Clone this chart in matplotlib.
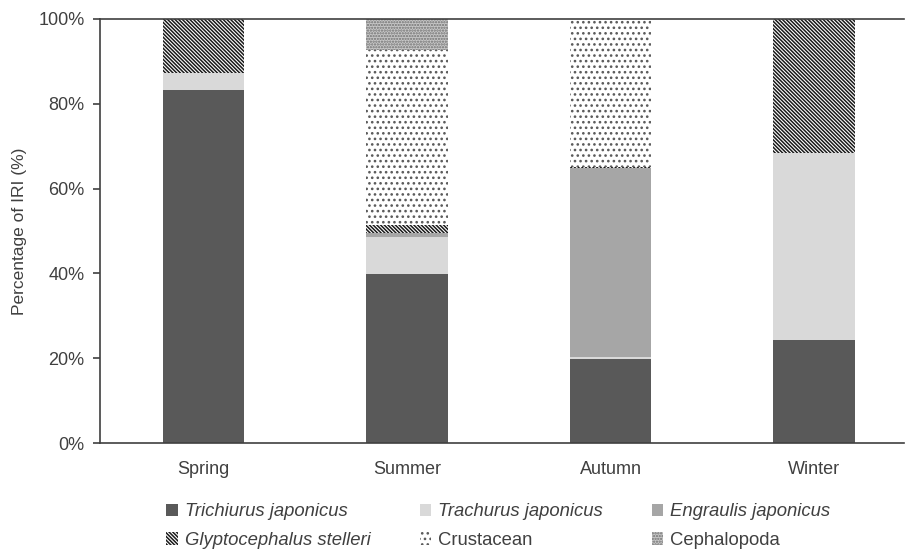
import matplotlib
matplotlib.use('Agg')

import numpy as np
import matplotlib.pyplot as plt
from matplotlib.patches import Patch

seasons = ['Spring', 'Summer', 'Autumn', 'Winter']
trichiurus = [83.2, 39.9, 19.9, 24.3]
trachurus = [4.1, 8.7, 0.5, 44.1]
engraulis = [0.0, 0.9, 44.5, 0.0]
glyptocephalus = [12.7, 1.9, 0.3, 31.6]
crustacean = [0.0, 41.3, 34.8, 0.0]
cephalopoda = [0.0, 7.3, 0.0, 0.0]

names = ['Trichiurus japonicus', 'Trachurus japonicus', 'Engraulis japonicus',
	'Glyptocephalus stelleri', 'Crustacean', 'Cephalopoda']
italic = [True, True, True, True, False, False]

# face, hatch, hatch colour
styles = [
	( '#595959', None, '#595959' ),
	( '#d9d9d9', None, '#d9d9d9' ),
	( '#a6a6a6', None, '#a6a6a6' ),
	( 'white', '\\' * 9, '#1a1a1a' ),
	( 'white', '...', '#5a5a5a' ),
	( '#c8c8c8', '......', '#707070' ),
]

plt.rcParams['font.family'] = ['Liberation Sans', 'DejaVu Sans']
plt.rcParams['hatch.linewidth'] = 1.1
txt = '#404040'

fig = plt.figure( figsize=( 9.09, 5.5 ), dpi=100 )
ax = fig.add_axes( [ 0.110, 0.1945, 0.885, 0.771 ] )

x = np.arange( len( seasons ) )
series = [ trichiurus, trachurus, engraulis, glyptocephalus, crustacean, cephalopoda ]
bottom = np.zeros( len( seasons ) )
handles = []
for vals, ( fc, h, hc ), name in zip( series, styles, names ):
	vals = np.array( vals )
	ax.bar( x, vals, 0.40, bottom=bottom, color=fc, edgecolor=hc, hatch=h, linewidth=0 )
	bottom += vals
	handles.append( Patch( facecolor=fc, edgecolor=hc, hatch=h, linewidth=0, label=name ) )

ax.set_xlim( -0.51, 3.445 )
ax.set_ylim( 0, 100 )
ax.axhline( 100, color='#404040', lw=1.2, clip_on=False )
ax.set_yticks( np.arange( 0, 101, 20 ) )
ax.set_yticklabels( [ '{}%'.format( v ) for v in range( 0, 101, 20 ) ] )
ax.set_xticks( x )
ax.set_xticklabels( seasons )
ax.tick_params( axis='x', length=0, pad=13, labelsize=13, colors=txt )
ax.tick_params( axis='y', length=5, width=1.2, pad=6, labelsize=13, colors=txt, color='#404040' )
for s in [ 'top', 'right' ]:
	ax.spines[ s ].set_visible( False )
for s in [ 'left', 'bottom' ]:
	ax.spines[ s ].set_color( '#404040' )
	ax.spines[ s ].set_linewidth( 1.2 )
ax.set_ylabel( 'Percentage of IRI (%)', fontsize=12.5, color=txt, labelpad=8 )

# legend filled column-wise, so reorder to read row-wise
order = [ 0, 3, 1, 4, 2, 5 ]
leg = fig.legend( [ handles[ i ] for i in order ], [ names[ i ] for i in order ],
	ncol=3, loc='upper left', bbox_to_anchor=( 0.175, 0.098 ), frameon=False,
	fontsize=13.3, handlelength=0.6, handleheight=0.7, handletextpad=0.4,
	columnspacing=2.65, labelspacing=0.6, borderaxespad=0 )
for t, i in zip( leg.get_texts( ), order ):
	t.set_color( txt )
	if italic[ i ]:
		t.set_style( 'italic' )

fig.savefig( 'out.png', dpi=100 )
